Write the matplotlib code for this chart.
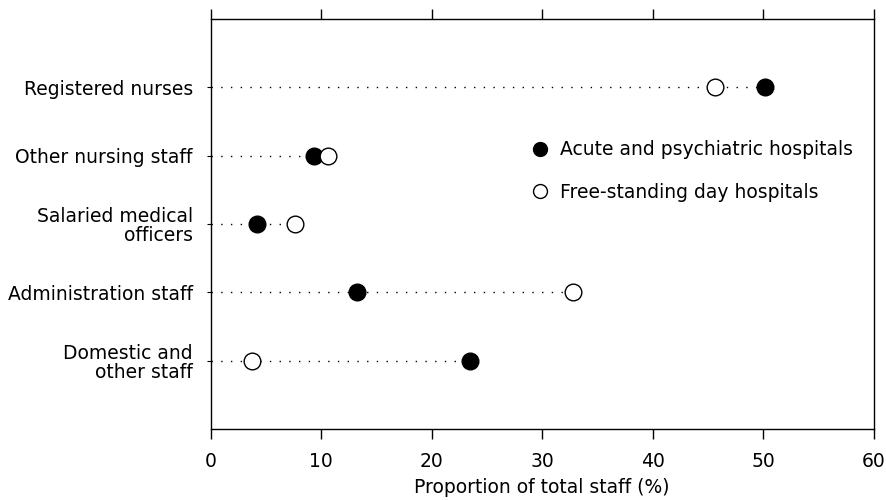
import matplotlib.pyplot as plt
from matplotlib.lines import Line2D
import numpy as np

plt.rcParams['font.family'] = ['DejaVu Sans']

categories = ['Registered nurses', 'Other nursing staff', 'Salaried medical\nofficers',
              'Administration staff', 'Domestic and\nother staff']
acute = [50.2, 9.3, 4.2, 13.2, 23.5]
day_hosp = [45.6, 10.6, 7.6, 32.8, 3.7]
series_labels = ['Acute and psychiatric hospitals', 'Free-standing day hospitals']
xticks = [0, 10, 20, 30, 40, 50, 60]

fs = 13.5

fig = plt.figure(figsize=(8.86, 5), dpi=100)
ax = fig.add_axes([0.238, 0.142, 0.748, 0.820])

ypos = np.arange(1, len(categories) + 1)

# dotted guide from 0 to the far marker
for y, a, d in zip(ypos, acute, day_hosp):
    ax.plot([0, max(a, d)], [y, y], color='black', linestyle=(0, (1, 6)),
            linewidth=1, zorder=1)

ax.plot(acute, ypos, 'o', color='black', markersize=12, zorder=3, linestyle='none')
ax.plot(day_hosp, ypos, 'o', markerfacecolor='white', markeredgecolor='black',
        markeredgewidth=1, markersize=12, zorder=3, linestyle='none')

ax.set_xlim(0, 60)
ax.set_ylim(6, 0)
ax.set_xticks(xticks)
ax.set_yticks(ypos)
ax.set_yticklabels(categories, fontsize=fs, ha='right', multialignment='right',
                   linespacing=1.0)
ax.tick_params(axis='x', which='both', direction='out', length=7, width=1,
               labelsize=fs, top=True, bottom=True, pad=9.5)
ax.tick_params(axis='y', direction='out', length=3, width=0.8, pad=10)
ax.set_xlabel('Proportion of total staff (%)', fontsize=fs, labelpad=5)

for s in ax.spines.values():
    s.set_linewidth(1)

handles = [
    Line2D([], [], marker='o', color='black', markersize=10, linestyle='none'),
    Line2D([], [], marker='o', markerfacecolor='white', markeredgecolor='black',
           markeredgewidth=1, markersize=10, linestyle='none'),
]
ax.legend(handles, series_labels, loc='upper left', bbox_to_anchor=(0.457, 0.745),
          frameon=False, fontsize=fs, handletextpad=0.56, labelspacing=1.25,
          handlelength=1.0)

fig.savefig('out.png', dpi=100)
